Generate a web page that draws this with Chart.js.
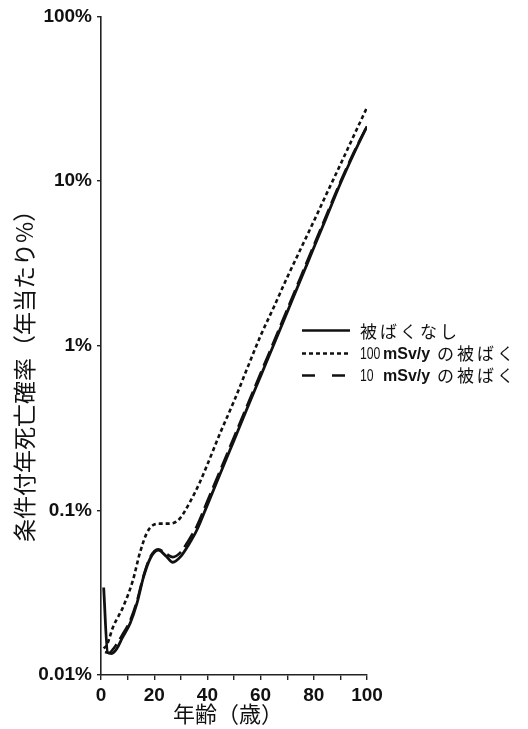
<!DOCTYPE html>
<html>
<head>
<meta charset="utf-8">
<script src="https://cdn.jsdelivr.net/npm/chart.js@4/dist/chart.umd.min.js"></script>
<style>
html,body{margin:0;padding:0;background:#fff;}
canvas{display:block;}
</style>
</head>
<body>
<canvas id="c" width="528" height="729"></canvas>
<script>
// ---- data (age in years, annual conditional death probability in %) ----
const seriesLabels = ['被ばくなし', '100 mSv/y の被ばく', '10 mSv/y の被ばく'];

const noExposureAges = [1, 2.5, 4, 6, 8, 11, 13.5, 16, 18.5, 21.5, 24.5, 27, 30, 33, 36, 40, 45, 50, 55, 60, 65, 70, 75, 80, 85, 90, 95, 100];
const noExposureValues = [0.034, 0.0137, 0.0135, 0.0145, 0.0168, 0.0207, 0.0272, 0.0394, 0.051, 0.0573, 0.0527, 0.0484, 0.0525, 0.062, 0.0757, 0.108, 0.17, 0.266, 0.418, 0.653, 1.02, 1.60, 2.51, 3.93, 6.16, 9.66, 14.6, 21.5];

const exp100Ages = [1, 2.2, 4.5, 8.3, 12, 14.6, 17.2, 19.5, 22, 25, 27, 29.6, 33.4, 37, 40, 45, 50, 55, 60, 65, 70, 75, 80, 85, 90, 95, 100];
const exp100Values = [0.0145, 0.0152, 0.0195, 0.0259, 0.0376, 0.055, 0.0727, 0.0812, 0.083, 0.083, 0.0835, 0.089, 0.112, 0.146, 0.19, 0.30, 0.46, 0.73, 1.15, 1.72, 2.6, 3.85, 5.7, 8.5, 12.6, 18.8, 28];

const exp10Ages = [1.5, 3, 5, 8, 11, 13.5, 16, 18.5, 21.5, 24.5, 27, 30, 33, 36, 40, 45, 50, 55, 60, 65, 70, 75, 80, 85, 90, 95, 100];
const exp10Values = [0.0138, 0.0136, 0.0147, 0.0175, 0.0215, 0.028, 0.040, 0.052, 0.058, 0.0545, 0.052, 0.0558, 0.066, 0.080, 0.114, 0.178, 0.278, 0.435, 0.68, 1.06, 1.66, 2.6, 4.07, 6.35, 9.9, 14.9, 21.5];

const yTickValues = [0.01, 0.1, 1, 10, 100];
const yTickLabels = ['0.01%', '0.1%', '1%', '10%', '100%'];
const xTitle = '年齢（歳）';
const yTitle = '条件付年死亡確率（年当たり%）';

function pts(xs, ys){ return xs.map((x,i)=>({x:x, y:ys[i]})); }

const INK = '#111';
const CJK = '"Noto Sans CJK JP", "Noto Sans", sans-serif';
const LAT = '"Liberation Sans", Arial, sans-serif';

const decorPlugin = {
  id: 'decor',
  afterDraw(chart){
    const ctx = chart.ctx;
    const ca = chart.chartArea;
    ctx.save();
    ctx.fillStyle = INK;
    // axis titles
    ctx.font = '22px ' + CJK;
    ctx.textAlign = 'center';
    ctx.textBaseline = 'middle';
    ctx.fillText(xTitle, ca.left + 127, ca.bottom + 39);
    ctx.save();
    ctx.font = '23px ' + CJK;
    ctx.translate(24, ca.top + 354);
    ctx.rotate(-Math.PI/2);
    ctx.fillText(yTitle, 0, 0);
    ctx.restore();

    // legend
    const lx0 = ca.right - 65, lx1 = ca.right - 17;
    const rowsY = [ca.top + 314, ca.top + 337, ca.top + 359];
    const textX = ca.right - 7;
    chart.data.datasets.forEach((ds, i) => {
      const y = rowsY[i];
      ctx.save();
      ctx.strokeStyle = ds.borderColor;
      ctx.lineWidth = 2.5;
      ctx.setLineDash(ds.legendDash || []);
      ctx.beginPath();
      ctx.moveTo(lx0, y); ctx.lineTo(lx1, y);
      ctx.stroke();
      ctx.restore();

      ctx.textAlign = 'left';
      ctx.textBaseline = 'middle';
      const m = ds.label.match(/^(\d+) (mSv\/y) (.*)$/);
      const drawCJK = (s, x, y) => {
        ctx.font = '17px ' + CJK;
        for (const ch of s) { ctx.fillText(ch, x, y); x += 20; }
      };
      if (m) {
        ctx.save();
        ctx.font = '17px ' + LAT;
        ctx.translate(textX, y + 1);
        ctx.scale(0.72, 1);
        ctx.fillText(m[1], 0, 0);
        ctx.restore();
        ctx.font = 'bold 16px ' + LAT;
        ctx.fillText(m[2], textX + 23, y + 1);
        drawCJK(m[3], textX + 77, y);
      } else {
        drawCJK(ds.label, textX, y + 1);
      }
    });
    ctx.restore();
  }
};

new Chart(document.getElementById('c'), {
  type: 'line',
  data: {
    datasets: [
      { label: seriesLabels[0], data: pts(noExposureAges, noExposureValues),
        borderColor: INK, borderWidth: 2.8, pointRadius: 0, fill: false,
        cubicInterpolationMode: 'monotone', legendDash: [] },
      { label: seriesLabels[1], data: pts(exp100Ages, exp100Values),
        borderColor: INK, borderWidth: 2.6, borderDash: [4, 3], pointRadius: 0, fill: false,
        cubicInterpolationMode: 'monotone', legendDash: [4, 3] },
      { label: seriesLabels[2], data: pts(exp10Ages, exp10Values),
        borderColor: INK, borderWidth: 2.6, borderDash: [16, 6], pointRadius: 0, fill: false,
        cubicInterpolationMode: 'monotone', legendDash: [13, 17] }
    ]
  },
  options: {
    responsive: false,
    animation: false,
    devicePixelRatio: 1,
    layout: { padding: { left: 0, right: 161, top: 15, bottom: 0 } },
    plugins: { legend: { display: false }, tooltip: { enabled: false }, title: { display: false } },
    scales: {
      x: {
        type: 'linear', min: 0, max: 100,
        border: { display: true, color: '#222', width: 1.6 },
        grid: { drawOnChartArea: false, drawTicks: true, tickLength: 5, color: '#222', lineWidth: 1.4 },
        ticks: {
          stepSize: 10, color: INK, padding: 4, maxRotation: 0, autoSkip: false,
          font: { family: LAT, size: 19, weight: 'bold' },
          callback: (v) => (v % 20 === 0 ? String(v) : '')
        },
        afterFit: (s) => { s.height = 54; }
      },
      y: {
        type: 'logarithmic', min: 0.01, max: 100,
        border: { display: true, color: '#222', width: 1.6 },
        grid: { drawOnChartArea: false, drawTicks: true, tickLength: 4, color: '#222', lineWidth: 1.4 },
        afterBuildTicks: (s) => { s.ticks = yTickValues.map(v => ({ value: v })); },
        ticks: {
          color: INK, padding: 5, autoSkip: false,
          font: { family: LAT, size: 19, weight: 'bold' },
          callback: (v) => { const i = yTickValues.indexOf(v); return i >= 0 ? yTickLabels[i] : ''; }
        },
        afterFit: (s) => { s.width = 101; }
      }
    }
  },
  plugins: [decorPlugin]
});
</script>
</body>
</html>
